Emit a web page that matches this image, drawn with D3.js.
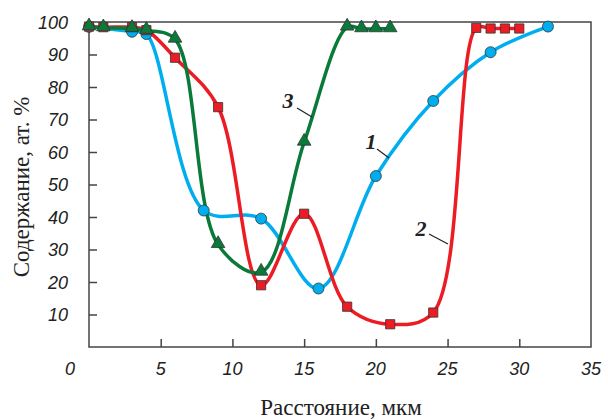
<!DOCTYPE html>
<html>
<head>
<meta charset="utf-8">
<script src="https://cdn.jsdelivr.net/npm/d3@7"></script>
<style>
  body { margin: 0; background: #fff; }
  svg { display: block; }
</style>
</head>
<body>
<svg id="chart"></svg>
<script>
// values
const xTicks = [5, 10, 15, 20, 25, 30, 35];
const yTicks = [10, 20, 30, 40, 50, 60, 70, 80, 90, 100];

const curve1 = [[0, 98.5], [3, 97], [4, 96.3], [8, 42], [12, 39.5], [16, 18], [20, 52.6], [24, 75.7], [28, 90.7], [32, 98.6]];
const curve2 = [[0, 98.6], [1, 98.4], [3, 98.4], [4, 97.5], [6, 89], [9, 73.8], [12, 19], [15, 41], [18, 12.4], [21, 7], [24, 10.6], [27, 98.2], [28, 98], [29, 98], [30, 98]];
const curve3 = [[0, 98.5], [1, 98.2], [3, 98], [4, 97.4], [6, 94.7], [9, 31.5], [12, 23], [15, 63], [18, 98.4], [19, 97.9], [20, 97.9], [21, 97.9]];

const width = 608, height = 420;
const mLeft = 89, mRight = 591, mTop = 22, mBottom = 347;

const svg = d3.select("#chart")
  .attr("width", width)
  .attr("height", height)
  .style("font-family", "'Liberation Sans', Arial, sans-serif");

const x = d3.scaleLinear().domain([0, 35]).range([mLeft, mRight]);
const y = d3.scaleLinear().domain([0, 100]).range([mBottom, mTop]);

// frame
svg.append("rect")
  .attr("x", mLeft).attr("y", mTop)
  .attr("width", mRight - mLeft).attr("height", mBottom - mTop)
  .attr("fill", "none").attr("stroke", "#444").attr("stroke-width", 1.5);

// ticks pointing inward
const xAxis = svg.append("g")
  .attr("transform", `translate(0,${mBottom})`)
  .call(d3.axisTop(x).tickValues(xTicks.slice(0, -1)).tickSize(8).tickFormat(""));
const yAxis = svg.append("g")
  .attr("transform", `translate(${mLeft},0)`)
  .call(d3.axisRight(y).tickValues(yTicks.slice(0, -1)).tickSize(8).tickFormat(""));
[xAxis, yAxis].forEach(g => {
  g.select(".domain").remove();
  g.selectAll("line").attr("stroke", "#444").attr("stroke-width", 1.5);
});

// tick labels
svg.append("g").selectAll("text")
  .data(yTicks)
  .enter().append("text")
  .attr("x", 68)
  .attr("y", d => y(d) + 6.5)
  .attr("text-anchor", "end")
  .attr("font-size", 18)
  .attr("font-style", "italic")
  .attr("fill", "#222")
  .text(d => d);

svg.append("g").selectAll("text")
  .data(xTicks)
  .enter().append("text")
  .attr("x", d => x(d))
  .attr("y", 375)
  .attr("text-anchor", "middle")
  .attr("font-size", 18)
  .attr("font-style", "italic")
  .attr("fill", "#222")
  .text(d => d);

svg.append("text")
  .attr("x", 70).attr("y", 375)
  .attr("text-anchor", "middle")
  .attr("font-size", 18)
  .attr("font-style", "italic")
  .attr("fill", "#222")
  .text("0");

// axis titles
svg.append("text")
  .attr("x", 341).attr("y", 415)
  .attr("text-anchor", "middle")
  .attr("font-family", "'Liberation Serif', 'Times New Roman', serif")
  .attr("font-size", 23)
  .attr("fill", "#222")
  .text("Расстояние, мкм");

svg.append("text")
  .attr("transform", "rotate(-90)")
  .attr("x", -187).attr("y", 29)
  .attr("text-anchor", "middle")
  .attr("font-family", "'Liberation Serif', 'Times New Roman', serif")
  .attr("font-size", 23)
  .attr("fill", "#222")
  .text("Содержание, ат. %");

const line = d3.line()
  .x(d => x(d[0]))
  .y(d => y(d[1]))
  .curve(d3.curveCatmullRom.alpha(0.5));

const series = [
  { data: curve1, color: "#00aeef", shape: "circle" },
  { data: curve2, color: "#ed1c24", shape: "square" },
  { data: curve3, color: "#0a7a3a", shape: "triangle" }
];

series.forEach(s => {
  svg.append("path")
    .datum(s.data)
    .attr("d", line)
    .attr("fill", "none")
    .attr("stroke", s.color)
    .attr("stroke-width", 3.5)
    .attr("stroke-linejoin", "round");
});

series.forEach(s => {
  const sym = s.shape === "circle" ? d3.symbolCircle
    : s.shape === "square" ? d3.symbolSquare : d3.symbolTriangle;
  const size = s.shape === "circle" ? 95 : s.shape === "square" ? 85 : 80;
  svg.append("g").selectAll("path")
    .data(s.data)
    .enter().append("path")
    .attr("transform", d => `translate(${x(d[0])},${y(d[1]) + (s.shape === "triangle" ? -1 : 0)})`)
    .attr("d", d3.symbol(sym, size))
    .attr("fill", s.color)
    .attr("stroke", "#333")
    .attr("stroke-width", 0.8);
});

// curve labels with leader lines
const labels = [
  { t: "1", x: 371, y: 149, x1: 377, y1: 149, x2: 389, y2: 158 },
  { t: "2", x: 421, y: 236, x1: 429, y1: 234, x2: 448, y2: 244 },
  { t: "3", x: 288, y: 108, x1: 297, y1: 108, x2: 312, y2: 117 }
];
labels.forEach(l => {
  svg.append("text")
    .attr("x", l.x).attr("y", l.y)
    .attr("text-anchor", "middle")
    .attr("font-family", "'Liberation Serif', 'Times New Roman', serif")
    .attr("font-size", 22)
    .attr("font-style", "italic")
    .attr("font-weight", "bold")
    .attr("fill", "#222")
    .text(l.t);
  svg.append("line")
    .attr("x1", l.x1).attr("y1", l.y1)
    .attr("x2", l.x2).attr("y2", l.y2)
    .attr("stroke", "#222").attr("stroke-width", 1.2);
});
</script>
</body>
</html>
